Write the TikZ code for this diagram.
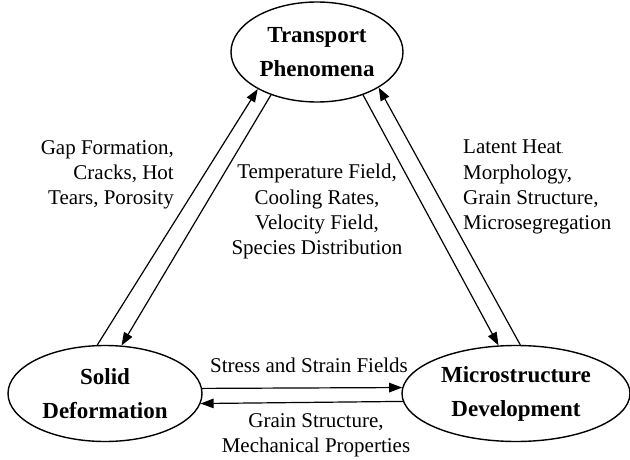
\documentclass[tikz,border=0pt]{standalone}
\usepackage{fontspec}
\setmainfont{Liberation Serif}
\usetikzlibrary{shapes.geometric,arrows.meta}
\begin{document}
\begin{tikzpicture}[x=1pt,y=-1pt,
  proc/.style={ellipse,draw,line width=1.4pt,inner sep=0pt,align=center,
    font=\fontsize{23}{34}\selectfont\bfseries},
  flow/.style={line width=1.2pt,-{Triangle[length=13pt,width=9.5pt]}},
  lbl/.style={inner sep=0pt,font=\fontsize{21}{25.3}\selectfont}]
\useasboundingbox (0,0) rectangle (630,460);
\node[proc,minimum width=172pt,minimum height=100pt] (tp) at (317,52) {Transport\\Phenomena};
\node[proc,minimum width=194pt,minimum height=96pt] (sd) at (105,393.5) {Solid\\Deformation};
\node[proc,minimum width=228pt,minimum height=96pt] (md) at (516,393.5) {Microstructure\\Development};
% left pair
\draw[flow] (sd.99) -- (tp.212);
\draw[flow] (tp.223) -- (sd.71);
% right pair
\draw[flow] (tp.317) -- (md.110);
\draw[flow] (md.85) -- (tp.330);
% bottom pair
\draw[flow] (sd.3) -- (md.177);
\draw[flow] (md.184.5) -- (sd.-6);
% labels
\node[lbl,align=right,anchor=north east] (l1) at (174,140) {Gap Formation,\\Cracks, Hot\\Tears, Porosity};
\node[lbl,align=center,anchor=north] (l2) at (317,164) {Temperature Field,\\Cooling Rates,\\Velocity Field,\\Species Distribution};
\node[lbl,align=left,anchor=north west] (l3) at (463,140) {Latent Heat{\fontsize{8}{8}\selectfont.}\\Morphology,\\Grain Structure,\\Microsegregation};
\node[lbl,anchor=base] (l4) at (309,372) {Stress and Strain Fields};
\node[lbl,align=center,anchor=north] (l5) at (316,413) {Grain Structure,\\Mechanical Properties};
\end{tikzpicture}
\end{document}
